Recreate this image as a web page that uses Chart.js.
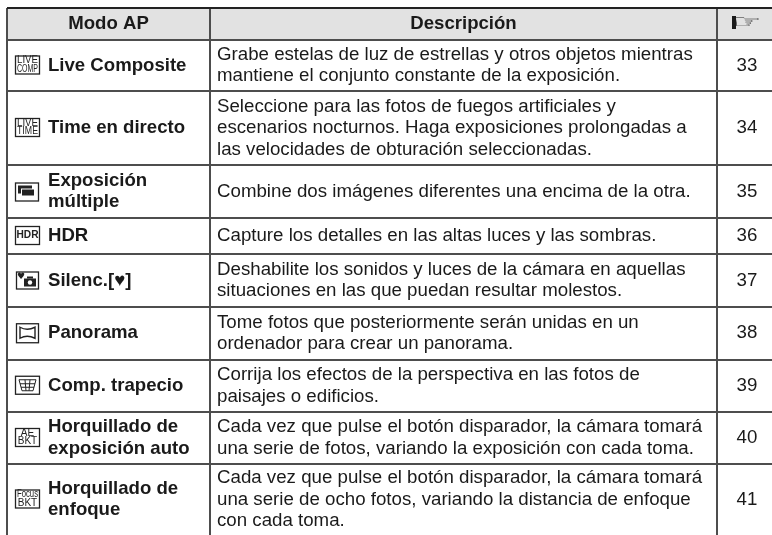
<!DOCTYPE html>
<html lang="es">
<head>
<meta charset="utf-8">
<title>Modo AP</title>
<script src="https://cdn.jsdelivr.net/npm/chart.js@4"></script>
<style>
  html, body { margin: 0; padding: 0; background: #fff; }
  #wrap { width: 772px; height: 535px; }
</style>
</head>
<body>
<div id="wrap"><canvas id="tableChart"></canvas></div>
<script>
// Contenido de la tabla
const headers = ['Modo AP', 'Descripción', '☞'];
const modes = [
    ['Live Composite'],
    ['Time en directo'],
    ['Exposición', 'múltiple'],
    ['HDR'],
    ['Silenc.[♥]'],
    ['Panorama'],
    ['Comp. trapecio'],
    ['Horquillado de', 'exposición auto'],
    ['Horquillado de', 'enfoque']
];
const descriptions = [
    ['Grabe estelas de luz de estrellas y otros objetos mientras', 'mantiene el conjunto constante de la exposición.'],
    ['Seleccione para las fotos de fuegos artificiales y', 'escenarios nocturnos. Haga exposiciones prolongadas a', 'las velocidades de obturación seleccionadas.'],
    ['Combine dos imágenes diferentes una encima de la otra.'],
    ['Capture los detalles en las altas luces y las sombras.'],
    ['Deshabilite los sonidos y luces de la cámara en aquellas', 'situaciones en las que puedan resultar molestos.'],
    ['Tome fotos que posteriormente serán unidas en un', 'ordenador para crear un panorama.'],
    ['Corrija los efectos de la perspectiva en las fotos de', 'paisajes o edificios.'],
    ['Cada vez que pulse el botón disparador, la cámara tomará', 'una serie de fotos, variando la exposición con cada toma.'],
    ['Cada vez que pulse el botón disparador, la cámara tomará', 'una serie de ocho fotos, variando la distancia de enfoque', 'con cada toma.']
];
const pages = [33, 34, 35, 36, 37, 38, 39, 40, 41];
const icons = ['LIVE|COMP', 'LIVE|TIME', 'multi', 'HDR', 'silent', 'pano', 'keystone', 'AE|BKT', 'Focus|BKT'];

// Bordes de filas y columnas en unidades de los ejes
const rowEdges = [8, 40, 91, 165, 218, 254, 307, 359.5, 412, 464, 535];
const colEdges = [7, 210, 717, 772];
const pageCenter = 747;

const fontFamily = '"Liberation Sans", Arial, sans-serif';
const textSize = 18.7;
const boldSize = 18.6;
const lineGap = 21.5;

// Puntos invisibles en el centro de cada fila, los textos se colocan con ellos
const rowCenters = modes.map((m, i) => ({ x: pageCenter, y: (rowEdges[i + 1] + rowEdges[i + 2]) / 2 }));

function box(ctx, x, y, w, h) {
    ctx.lineWidth = 1.3;
    ctx.strokeStyle = '#222';
    ctx.strokeRect(x + 0.5, y + 0.5, w, h);
}

function drawIcon(ctx, kind, x, cy) {
    ctx.save();
    ctx.fillStyle = '#222';
    ctx.strokeStyle = '#222';
    ctx.textAlign = 'center';
    ctx.textBaseline = 'middle';
    if (kind === 'multi') {
        box(ctx, x, cy - 9, 23, 18);
        ctx.fillRect(x + 3, cy - 6, 14, 8);
        ctx.fillStyle = '#fff';
        ctx.fillRect(x + 6, cy - 3, 14, 8);
        ctx.fillStyle = '#222';
        ctx.fillRect(x + 7, cy - 2, 12, 6);
    } else if (kind === 'silent') {
        box(ctx, x + 1, cy - 9, 22, 17);
        ctx.font = '9px "DejaVu Sans"';
        ctx.fillText('♥', x + 6, cy - 4);
        ctx.fillRect(x + 9, cy - 2, 12, 8);
        ctx.fillRect(x + 12, cy - 4, 6, 2);
        ctx.fillStyle = '#fff';
        ctx.beginPath();
        ctx.arc(x + 15, cy + 2, 2.2, 0, Math.PI * 2);
        ctx.fill();
    } else if (kind === 'pano') {
        box(ctx, x + 1, cy - 10, 22, 19);
        ctx.lineWidth = 1.4;
        ctx.beginPath();
        ctx.moveTo(x + 5, cy - 6);
        ctx.quadraticCurveTo(x + 12, cy - 2, x + 20, cy - 6);
        ctx.lineTo(x + 20, cy + 5);
        ctx.quadraticCurveTo(x + 12, cy + 1, x + 5, cy + 5);
        ctx.closePath();
        ctx.stroke();
    } else if (kind === 'keystone') {
        box(ctx, x, cy - 10, 24, 18);
        ctx.lineWidth = 1;
        ctx.beginPath();
        ctx.moveTo(x + 4, cy - 6);
        ctx.lineTo(x + 21, cy - 6);
        ctx.moveTo(x + 5, cy - 2);
        ctx.lineTo(x + 20, cy - 2);
        ctx.moveTo(x + 7, cy + 5);
        ctx.lineTo(x + 18, cy + 5);
        ctx.moveTo(x + 6, cy + 1.5);
        ctx.lineTo(x + 19, cy + 1.5);
        ctx.moveTo(x + 4, cy - 6);
        ctx.lineTo(x + 7, cy + 5);
        ctx.moveTo(x + 21, cy - 6);
        ctx.lineTo(x + 18, cy + 5);
        ctx.moveTo(x + 10, cy - 6);
        ctx.lineTo(x + 11, cy + 5);
        ctx.moveTo(x + 15, cy - 6);
        ctx.lineTo(x + 14, cy + 5);
        ctx.stroke();
    } else {
        const parts = kind.split('|');
        box(ctx, x, cy - 10, 24, 18);
        if (parts.length === 1) {
            ctx.font = 'bold 10.5px ' + fontFamily;
            ctx.fillText(parts[0], x + 12.5, cy - 0.5, 22);
        } else {
            ctx.font = '10px ' + fontFamily;
            ctx.fillText(parts[0], x + 12.5, cy - 5, 21);
            ctx.fillText(parts[1], x + 12.5, cy + 3.5, 21);
        }
    }
    ctx.restore();
}

function drawLines(ctx, lines, x, cy) {
    lines.forEach((line, i) => {
        ctx.fillText(line, x, cy + (i - (lines.length - 1) / 2) * lineGap);
    });
}

// Plugin para escribir los textos de las celdas
const tableText = {
    id: 'tableText',
    afterDraw(chart) {
        const { ctx, scales: { x, y } } = chart;
        ctx.save();
        ctx.fillStyle = '#1a1a1a';
        ctx.textBaseline = 'middle';
        const headY = y.getPixelForValue((rowEdges[0] + rowEdges[1]) / 2);

        ctx.textAlign = 'center';
        ctx.font = 'bold ' + boldSize + 'px ' + fontFamily;
        ctx.fillText(headers[0], x.getPixelForValue((colEdges[0] + colEdges[1]) / 2), headY);
        ctx.fillText(headers[1], x.getPixelForValue((colEdges[1] + colEdges[2]) / 2), headY);

        // Mano de la cabecera, aplastada para que quede mas ancha que alta
        const handX = x.getPixelForValue(pageCenter);
        ctx.save();
        ctx.translate(handX, headY - 1);
        ctx.scale(1.25, 0.72);
        ctx.font = '26px "DejaVu Sans"';
        ctx.fillText(headers[2], 0, 0);
        ctx.restore();
        ctx.fillRect(handX - 15, headY - 8, 4, 13);

        rowCenters.forEach((c, i) => {
            const cy = y.getPixelForValue(c.y);
            drawIcon(ctx, icons[i], x.getPixelForValue(15), cy);
            ctx.textAlign = 'left';
            ctx.font = 'bold ' + boldSize + 'px ' + fontFamily;
            drawLines(ctx, modes[i], x.getPixelForValue(48), cy);
            ctx.font = textSize + 'px ' + fontFamily;
            drawLines(ctx, descriptions[i], x.getPixelForValue(217), cy);
            ctx.textAlign = 'center';
            ctx.fillText(pages[i], x.getPixelForValue(c.x), cy);
        });
        ctx.restore();
    }
};

new Chart(document.getElementById('tableChart').getContext('2d'), {
    type: 'scatter',
    data: {
        datasets: [
            {
                // Fondo gris de la cabecera
                data: [{ x: colEdges[0], y: rowEdges[0] }, { x: colEdges[3], y: rowEdges[0] }],
                showLine: true,
                borderWidth: 0,
                pointRadius: 0,
                backgroundColor: '#e2e2e2',
                fill: { value: rowEdges[1] }
            },
            {
                data: rowCenters,
                pointRadius: 0
            }
        ]
    },
    options: {
        responsive: true,
        maintainAspectRatio: false,
        animation: false,
        events: [],
        layout: { padding: { left: colEdges[0], top: rowEdges[0] } },
        plugins: {
            legend: { display: false },
            title: { display: false },
            tooltip: { enabled: false }
        },
        scales: {
            x: {
                type: 'linear',
                min: colEdges[0],
                max: colEdges[3],
                afterBuildTicks: scale => { scale.ticks = colEdges.slice(0, 3).map(value => ({ value })); },
                ticks: { display: false },
                border: { display: false },
                grid: { color: '#4d4d4d', lineWidth: 2, drawTicks: false, z: 1 }
            },
            y: {
                type: 'linear',
                reverse: true,
                min: rowEdges[0],
                max: rowEdges[rowEdges.length - 1],
                afterBuildTicks: scale => { scale.ticks = rowEdges.slice(0, -1).map(value => ({ value })); },
                ticks: { display: false },
                border: { display: false },
                grid: {
                    color: ctx => (ctx.index === 0 ? '#222' : '#4d4d4d'),
                    lineWidth: 2,
                    drawTicks: false,
                    z: 1
                }
            }
        }
    },
    plugins: [tableText]
});
</script>
</body>
</html>
